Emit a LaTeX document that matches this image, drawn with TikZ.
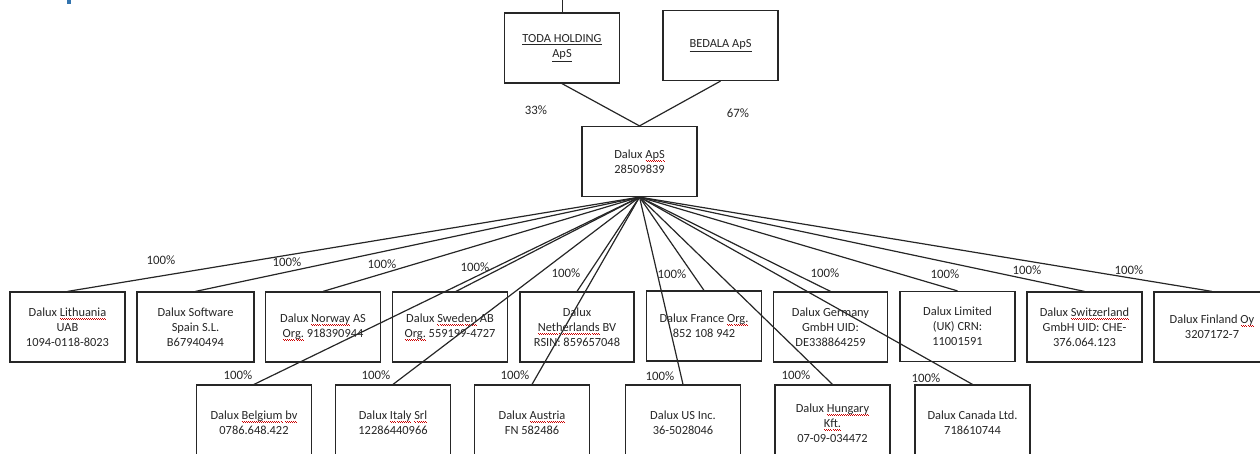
\documentclass[tikz,border=0pt]{standalone}
\usepackage{fontspec}
\setmainfont{Carlito}
\newcommand\spellmark[1]{\leavevmode\setbox0\hbox{#1}\rlap{\color{red!80!black}\hbox to\wd0{\xleaders\hbox to 2pt{\raise-2.2pt\hbox{\vrule width 1pt height 0.5pt depth 0pt}\raise-2.9pt\hbox{\vrule width 1pt height 0.5pt depth 0pt}}\hfil}}\box0\relax}

\begin{document}
\begin{tikzpicture}[x=1pt,y=-1pt,line width=1.2pt,color=black!85]

        \useasboundingbox (0,0) rectangle (1260,453);
        \clip (0,0) rectangle (1260,453);

        % cut-off bits at the top edge
        \fill[cyan!60!blue!80!black] (67,0) rectangle (71,4);
        \coordinate (above) at (562,-5);

        \begin{scope}[every node/.style={draw, minimum width=115pt, minimum height=70pt, align=center,
            inner sep=2pt, font=\fontsize{12.4}{15}\selectfont}]
          \node (toda) at (562,48)    {\underline{TODA HOLDING}\\\underline{ApS}};
          \node (beda) at (720.5,45.5) {\underline{BEDALA ApS}};
          \node (aps)  at (639.5,161.5) {Dalux \spellmark{ApS}\\28509839};

          \node (lt) at (67.5,327)  {Dalux \spellmark{Lithuania}\\UAB\\1094-0118-8023};
          \node[minimum width=117pt] (es) at (195.5,327) {Dalux Software\\Spain S.L.\\B67940494};
          \node (no) at (323,327)   {Dalux \spellmark{Norway} AS\\\spellmark{Org.} 918390944};
          \node (se) at (450,327)   {Dalux \spellmark{Sweden} AB\\\spellmark{Org.} 559199-4727};
          \node[minimum width=114pt] (nl) at (577,327) {Dalux\\\spellmark{Netherlands} BV\\RSIN: 859657048};
          \node (fr) at (704,326)   {Dalux France \spellmark{Org.}\\852 108 942};
          \node[minimum width=114pt] (de) at (830.5,327) {Dalux Germany\\GmbH UID:\\DE338864259};
          \node (uk) at (957.5,326.5) {Dalux Limited\\(UK) CRN:\\11001591};
          \node (ch) at (1084.5,327) {Dalux \spellmark{Switzerland}\\GmbH UID: CHE-\\376.064.123};
          \node[minimum width=116pt] (fi) at (1212,327) {Dalux Finland \spellmark{Oy}\\3207172-7};

          \node[minimum height=76pt] (be) at (254,423)   {Dalux \spellmark{Belgium} \spellmark{bv}\\0786.648.422};
          \node[minimum height=76pt] (it) at (393,423)   {Dalux \spellmark{Italy} \spellmark{Srl}\\12286440966};
          \node[minimum height=76pt] (at) at (532,423)   {Dalux \spellmark{Austria}\\FN 582486};
          \node[minimum height=76pt] (us) at (683,423)   {Dalux US Inc.\\36-5028046};
          \node[minimum height=76pt] (hu) at (832.5,423) {Dalux \spellmark{Hungary}\\\spellmark{Kft.}\\07-09-034472};
          \node[minimum height=76pt] (ca) at (972.5,423) {Dalux Canada Ltd.\\718610744};
        \end{scope}

        \begin{scope}[every node/.style={font=\fontsize{12.8}{15}\selectfont}]
          \node (ptoda) at (536,110) {33\%};
          \node (pbeda) at (738,113) {67\%};

          \node (plt) at (161,260)  {100\%};
          \node (pes) at (287,262)  {100\%};
          \node (pno) at (382,264)  {100\%};
          \node (pse) at (475,267)  {100\%};
          \node (pnl) at (566,273)  {100\%};
          \node (pfr) at (672,274)  {100\%};
          \node (pde) at (825,273)  {100\%};
          \node (puk) at (945,274)  {100\%};
          \node (pch) at (1027,270) {100\%};
          \node (pfi) at (1129,270) {100\%};
          \node (pbe) at (238,375)  {100\%};
          \node (pit) at (376,375)  {100\%};
          \node (pat) at (515,375)  {100\%};
          \node (pus) at (660,376)  {100\%};
          \node (phu) at (796,375)  {100\%};
          \node (pca) at (926,378)  {100\%};
        \end{scope}

        \begin{scope}[every edge/.style={draw}]
          \path (toda.north) edge[line width=0.8pt] (above);
          \path (toda.south) edge (aps.north);
          \path (beda.south) edge (aps.north);

          \path (aps.south) edge (lt.north);
          \path (aps.south) edge (es.north);
          \path (aps.south) edge (no.north);
          \path (aps.south) edge ([xshift=6pt]se.north);
          \path (aps.south) edge (nl.north);
          \path (aps.south) edge (fr.north);
          \path (aps.south) edge (de.north);
          \path (aps.south) edge (uk.north);
          \path (aps.south) edge (ch.north);
          \path (aps.south) edge (fi.north);
          \path (aps.south) edge (be.north);
          \path (aps.south) edge (it.north);
          \path (aps.south) edge (at.north);
          \path (aps.south) edge (us.north);
          \path (aps.south) edge (hu.north);
          \path (aps.south) edge (ca.north);
        \end{scope}

      \end{tikzpicture}
\end{document}
